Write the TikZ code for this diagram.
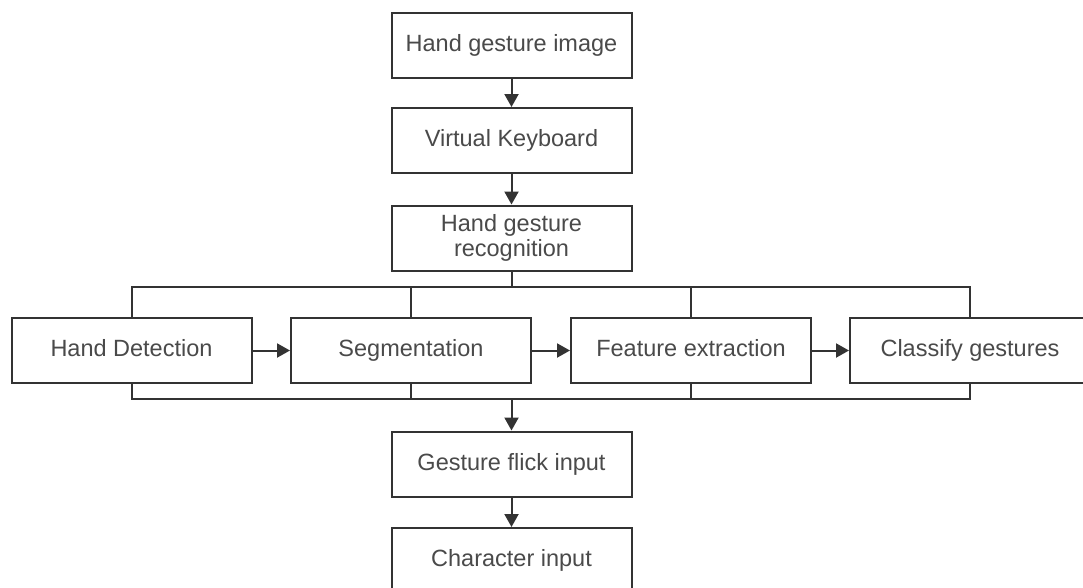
\documentclass[tikz,border=0pt]{standalone}
\usepackage{fontspec}
\setmainfont{Liberation Sans}
\usetikzlibrary{arrows.meta}
\definecolor{linec}{HTML}{333333}
\definecolor{textc}{HTML}{4A4A4A}
\begin{document}
\begin{tikzpicture}[x=1pt,y=-1pt,
  box/.style={draw=linec,line width=2pt,minimum width=240pt,minimum height=65pt,inner sep=0pt,
    align=center,text=textc,font=\fontsize{23.5}{25.5}\selectfont},
  one/.style={text height=17pt,text depth=5pt},
  conn/.style={draw=linec,line width=2pt},
  arr/.style={conn,-{Triangle[length=13pt,width=14pt]}}]
\useasboundingbox (0,0) rectangle (1083,587);
\clip (0,0) rectangle (1083,587);
\fill[white] (0,0) rectangle (1083,587);
\node[box,one] (top) at (511.5,45) {Hand gesture image};
\node[box,one] (vk) at (511.5,140.5) {Virtual Keyboard};
\node[box] (rec) at (511.5,238) {Hand gesture\\recognition};
\node[box,one] (hd) at (131.5,350.5) {Hand Detection};
\node[box,one] (seg) at (411,350.5) {Segmentation};
\node[box,one] (fe) at (691,350.5) {Feature extraction};
\node[box,one] (cg) at (970,350.5) {Classify gestures};
\node[box,one] (gf) at (511.5,464) {Gesture flick input};
\node[box,one] (ci) at (511.5,560.5) {Character input};
\coordinate (busT) at (511.5,287);
\coordinate (busB) at (511.5,399);
\draw[arr] (top) -- (vk);
\draw[arr] (vk) -- (rec);
\draw[conn] (rec.south) -- (busT);
\draw[conn] (hd.north) |- (busT) -| (cg.north);
\draw[conn] (seg.north) -- (seg.north |- busT);
\draw[conn] (fe.north) -- (fe.north |- busT);
\draw[conn] (hd.south) |- (busB) -| (cg.south);
\draw[conn] (seg.south) -- (seg.south |- busB);
\draw[conn] (fe.south) -- (fe.south |- busB);
\draw[arr] (hd) -- (seg);
\draw[arr] (seg) -- (fe);
\draw[arr] (fe) -- (cg);
\draw[arr] (busB) -- (gf);
\draw[arr] (gf) -- (ci);
\end{tikzpicture}
\end{document}
